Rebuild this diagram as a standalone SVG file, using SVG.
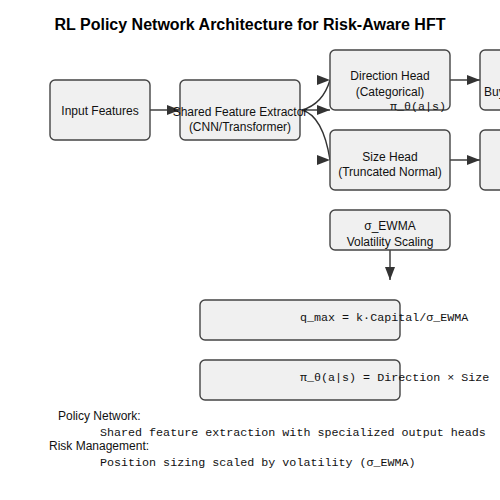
<svg xmlns="http://www.w3.org/2000/svg" width="500" height="500" viewBox="0 0 500 500">
<style>
.box{fill:#f0f0f0;stroke:#444;stroke-width:1.4}
.t{font-family:"Liberation Sans",Arial,sans-serif;font-size:12px;fill:#111;text-anchor:middle}
.m{font-family:"Liberation Mono","Courier New",monospace;font-size:11.7px;fill:#111}
.l{font-family:"Liberation Sans",Arial,sans-serif;font-size:12px;fill:#111}
.c{fill:none;stroke:#333;stroke-width:1.4}
</style>
<defs>
<marker id="ah" viewBox="0 0 13 10" refX="13" refY="5" markerWidth="13" markerHeight="10" markerUnits="userSpaceOnUse" orient="auto"><path d="M0,0 L13,5 L0,10 Z" fill="#333"/></marker>
<marker id="ah0" viewBox="0 0 13 10" refX="13" refY="5" markerWidth="13" markerHeight="10" markerUnits="userSpaceOnUse" orient="0"><path d="M0,0 L13,5 L0,10 Z" fill="#333"/></marker>
</defs>
<rect width="500" height="500" fill="#fff"/>
<text x="250" y="30" style="font-family:'Liberation Sans',Arial,sans-serif;font-size:16px;font-weight:bold;text-anchor:middle;fill:#000">RL Policy Network Architecture for Risk-Aware HFT</text>
<g id="connectors">
<path class="c" d="M150,110 L180,110" marker-end="url(#ah)"/>
<path class="c" d="M302,110 Q323,104 330,80" marker-end="url(#ah0)"/>
<path class="c" d="M302,110 L330,110" marker-end="url(#ah)"/>
<path class="c" d="M302,110 Q323,116 330,160" marker-end="url(#ah0)"/>
<path class="c" d="M450,80 L480,80" marker-end="url(#ah)"/>
<path class="c" d="M450,160 L480,160" marker-end="url(#ah)"/>
<path class="c" d="M390,250 L390,280" marker-end="url(#ah)"/>
</g>
<g id="input"><rect class="box" x="50" y="80" width="100" height="60" rx="5"/><text class="t" x="100" y="115">Input Features</text></g>
<g id="shared"><rect class="box" x="180" y="80" width="120" height="60" rx="5"/><text class="t" x="240" y="115.5">Shared Feature Extractor</text><text class="t" x="240" y="130.5">(CNN/Transformer)</text></g>
<g id="direction"><rect class="box" x="330" y="50" width="120" height="60" rx="5"/><text class="t" x="390" y="79.5">Direction Head</text><text class="t" x="390" y="95.5">(Categorical)</text><text class="m" x="390" y="110">π_θ(a|s)</text></g>
<g id="size"><rect class="box" x="330" y="130" width="120" height="60" rx="5"/><text class="t" x="390" y="160.5">Size Head</text><text class="t" x="390" y="175.5">(Truncated Normal)</text></g>
<g id="action"><rect class="box" x="480" y="50" width="120" height="60" rx="5"/><text class="l" x="484" y="95.5">Buy/Hold/Sell</text></g>
<g id="sizeout"><rect class="box" x="480" y="130" width="120" height="60" rx="5"/></g>
<g id="vol"><rect class="box" x="330" y="210" width="120" height="40" rx="5"/><text class="t" x="390" y="229.5">σ_EWMA</text><text class="t" x="390" y="245.5">Volatility Scaling</text></g>
<g id="qmax"><rect class="box" x="200" y="300" width="200" height="40" rx="5"/><text class="m" x="300" y="321">q_max = k·Capital/σ_EWMA</text></g>
<g id="policy"><rect class="box" x="200" y="360" width="200" height="40" rx="5"/><text class="m" x="300" y="381">π_θ(a|s) = Direction × Size</text></g>
<g id="legend">
<text class="l" x="58" y="420">Policy Network:</text>
<text class="m" x="100" y="436">Shared feature extraction with specialized output heads</text>
<text class="l" x="49" y="450">Risk Management:</text>
<text class="m" x="100" y="466">Position sizing scaled by volatility (σ_EWMA)</text>
</g>
</svg>
